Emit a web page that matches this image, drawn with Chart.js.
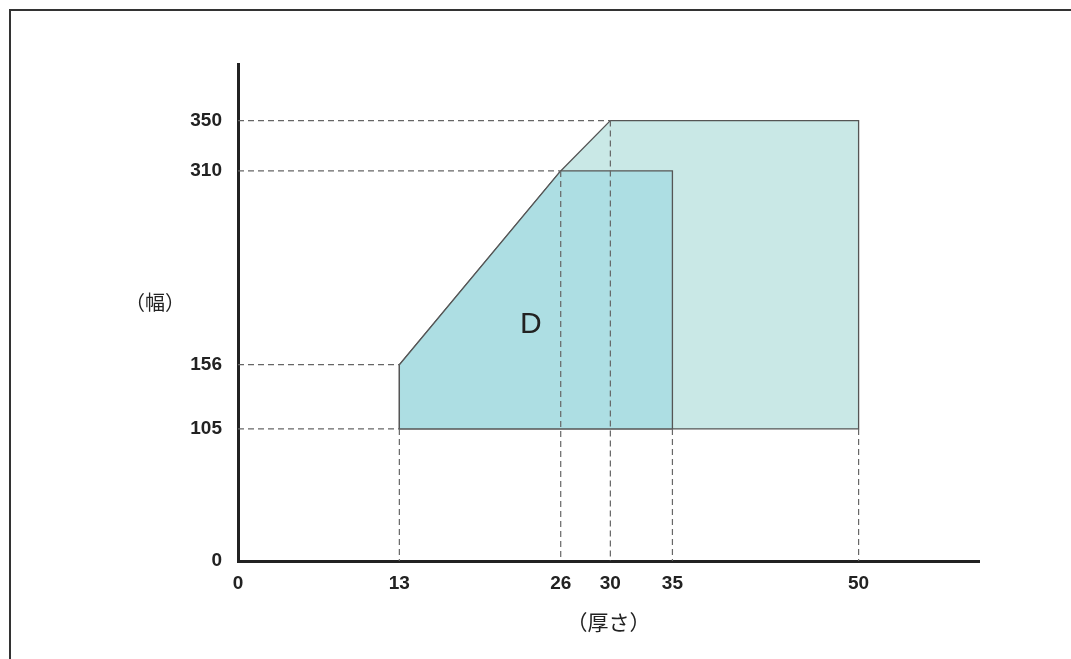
<!DOCTYPE html>
<html>
<head>
<meta charset="utf-8">
<script src="https://cdn.jsdelivr.net/npm/chart.js@4.4.1/dist/chart.umd.min.js"></script>
<style>
  html, body { margin: 0; padding: 0; background: #fff; overflow: hidden; }
  #wrap { position: relative; width: 1071px; height: 659px; }
  #frame { position: absolute; left: 9px; top: 9px; width: 1200px; height: 800px;
           border-top: 2px solid #333; border-left: 2px solid #333; }
  canvas { position: absolute; left: 0; top: 0; }
</style>
</head>
<body>
<div id="wrap">
  <div id="frame"></div>
  <canvas id="c" width="1071" height="659"></canvas>
</div>
<script>
// ---- data ----
const xTicks = [0, 13, 26, 30, 35, 50];
const yTicks = [0, 105, 156, 310, 350];
const outerX = [13, 13, 26, 30, 50, 50, 13];
const outerY = [105, 156, 310, 350, 350, 105, 105];
const innerX = [13, 13, 26, 35, 35, 13];
const innerY = [105, 156, 310, 310, 105, 105];
const guideFromX = [0, 0, 0, 0, 13, 26, 30, 35, 50];
const guideFromY = [350, 310, 156, 105, 105, 310, 350, 105, 105];
const guideToX   = [30, 26, 13, 13, 13, 26, 30, 35, 50];
const guideToY   = [350, 310, 156, 105, 0, 0, 0, 0, 0];
const regionLabel = 'D';
const regionLabelPos = [23.6, 188];
const xTitle = '（厚さ）';
const yTitle = '（幅）';

const toPts = (xs, ys) => xs.map((x, i) => ({ x: x, y: ys[i] }));

const datasets = [];
datasets.push({
  data: toPts(outerX, outerY), showLine: true, fill: 'shape',
  backgroundColor: '#c9e8e6', borderColor: '#555', borderWidth: 1.3,
  pointRadius: 0, tension: 0, order: 3
});
datasets.push({
  data: toPts(innerX, innerY), showLine: true, fill: 'shape',
  backgroundColor: '#addee3', borderColor: '#555', borderWidth: 1.3,
  pointRadius: 0, tension: 0, order: 2
});
guideFromX.forEach((x0, i) => {
  datasets.push({
    data: [{ x: x0, y: guideFromY[i] }, { x: guideToX[i], y: guideToY[i] }],
    showLine: true, fill: false, borderColor: '#666', borderWidth: 1.2,
    borderDash: [6, 4], pointRadius: 0, order: 1
  });
});

const textPlugin = {
  id: 'texts',
  afterDatasetsDraw(chart) {
    const ctx = chart.ctx;
    const xs = chart.scales.x, ys = chart.scales.y;
    ctx.save();
    ctx.fillStyle = '#222';
    ctx.textAlign = 'center';
    ctx.textBaseline = 'middle';
    ctx.font = '30px "Liberation Sans", Arial, sans-serif';
    ctx.fillText(regionLabel, xs.getPixelForValue(regionLabelPos[0]), ys.getPixelForValue(regionLabelPos[1]));
    ctx.font = '20px "Noto Sans CJK JP", sans-serif';
    ctx.fillText(yTitle, 155, ys.top + (ys.bottom - ys.top) * 0.48);
    ctx.restore();
  }
};

new Chart(document.getElementById('c'), {
  type: 'scatter',
  data: { datasets: datasets },
  plugins: [textPlugin],
  options: {
    responsive: false,
    animation: false,
    layout: { padding: { top: 64, right: 92, bottom: 0, left: 0 } },
    plugins: { legend: { display: false }, tooltip: { enabled: false } },
    scales: {
      x: {
        type: 'linear', min: 0, max: 59.7,
        grid: { display: false },
        border: { display: true, width: 3, color: '#222' },
        afterBuildTicks: s => { s.ticks = xTicks.map(v => ({ value: v })); },
        afterFit: s => { s.height = 98; },
        ticks: { autoSkip: false, maxRotation: 0, padding: 3, color: '#222',
                 font: { family: '"Liberation Sans", Arial, sans-serif', size: 19, weight: 'bold' } },
        title: { display: true, text: xTitle, color: '#222', padding: { top: 10, bottom: 24 },
                 font: { family: '"Noto Sans CJK JP", sans-serif', size: 21 } }
      },
      y: {
        type: 'linear', min: 0, max: 395,
        grid: { display: false },
        border: { display: true, width: 3, color: '#222' },
        afterBuildTicks: s => { s.ticks = yTicks.map(v => ({ value: v })); },
        afterFit: s => { s.width = 238; },
        ticks: { autoSkip: false, padding: 8, color: '#222',
                 font: { family: '"Liberation Sans", Arial, sans-serif', size: 19, weight: 'bold' } }
      }
    }
  }
});
</script>
</body>
</html>
